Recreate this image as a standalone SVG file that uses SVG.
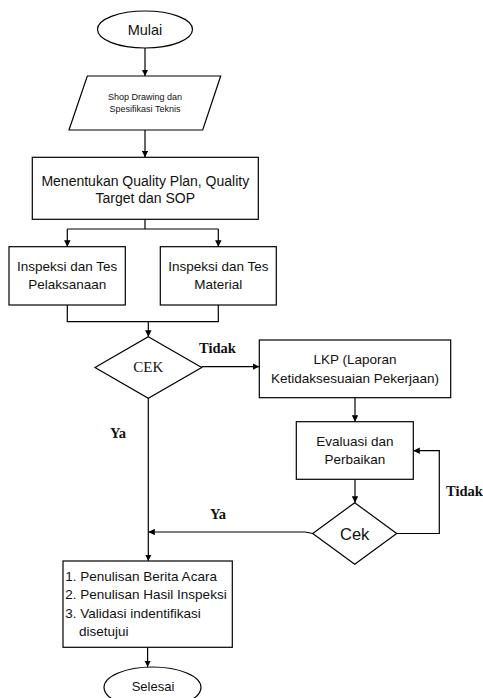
<svg xmlns="http://www.w3.org/2000/svg" width="483" height="698" viewBox="0 0 483 698">
<defs>
<marker id="ah" viewBox="0 0 10 10" refX="10" refY="5" markerWidth="6.5" markerHeight="6.5" markerUnits="userSpaceOnUse" orient="auto">
<path d="M0,0 L10,5 L0,10 z" fill="#000"/>
</marker>
<style>
.s{fill:#fff;stroke:#000;stroke-width:1.2}
.c{fill:none;stroke:#000;stroke-width:1.2}
.a{marker-end:url(#ah)}
.t{font-family:"Liberation Sans",Arial,sans-serif;font-size:13.5px;fill:#111;text-anchor:middle}
.l{font-family:"Liberation Serif","Times New Roman",serif;font-size:14.5px;font-weight:bold;fill:#111}
</style>
</defs>
<rect width="483" height="698" fill="#fff"/>
<g id="connectors">
<path class="c a" d="M145,48 V76"/>
<path class="c a" d="M145,130 V157.3"/>
<path class="c" d="M145,219.3 V229 M67.3,229 H218.3"/>
<path class="c a" d="M67.3,229 V246.7"/>
<path class="c a" d="M218.3,229 V246.7"/>
<path class="c" d="M67.3,305 V321.7 H218.3 V305"/>
<path class="c a" d="M148.3,321.7 V336.7"/>
<path class="c a" d="M201.7,366.7 H259.3"/>
<path class="c a" d="M355,397.7 V421.7"/>
<path class="c a" d="M355,479.3 V502.7"/>
<path class="c a" d="M396.7,533.5 H439.3 V450.7 H413.3"/>
<path class="c a" d="M312.7,533.5 L305,532 H148.3"/>
<path class="c a" d="M148.3,398.3 V561"/>
<path class="c a" d="M147.6,647.3 V667"/>
<text class="l" x="199" y="352.7">Tidak</text>
<text class="l" x="110" y="437.7">Ya</text>
<text class="l" x="210" y="518.7">Ya</text>
<text class="l" x="446" y="496">Tidak</text>
</g>
<g id="mulai">
<ellipse class="s" cx="145" cy="29.5" rx="47.5" ry="18.5"/>
<text class="t" x="145" y="34.5" style="font-size:14.5px">Mulai</text>
</g>
<g id="shop-drawing">
<polygon class="s" points="87.3,76 220.7,76 202.7,130 69,130"/>
<text class="t" x="145" y="100.3" style="font-size:9px">Shop Drawing dan</text>
<text class="t" x="145" y="112" style="font-size:9px">Spesifikasi Teknis</text>
</g>
<g id="quality-plan">
<rect class="s" x="32.3" y="157.3" width="226" height="62"/>
<text class="t" x="145.3" y="185.7" style="font-size:14px">Menentukan Quality Plan, Quality</text>
<text class="t" x="145.3" y="203.3" style="font-size:14px">Target dan SOP</text>
</g>
<g id="inspeksi-pelaksanaan">
<rect class="s" x="9" y="246.7" width="116.3" height="58.3"/>
<text class="t" x="67.2" y="271">Inspeksi dan Tes</text>
<text class="t" x="67.2" y="289.3">Pelaksanaan</text>
</g>
<g id="inspeksi-material">
<rect class="s" x="160.3" y="246.7" width="116" height="58.3"/>
<text class="t" x="218.3" y="271">Inspeksi dan Tes</text>
<text class="t" x="218.3" y="289.3">Material</text>
</g>
<g id="cek1">
<polygon class="s" points="148.3,336.7 201.7,367.5 148.3,398.3 95,367.5"/>
<text x="148.3" y="372.3" style="font-family:'Liberation Serif','Times New Roman',serif;font-size:15px;fill:#111;text-anchor:middle">CEK</text>
</g>
<g id="lkp">
<rect class="s" x="259.3" y="340" width="191.4" height="57.7"/>
<text class="t" x="355" y="364">LKP (Laporan</text>
<text class="t" x="355" y="382.7">Ketidaksesuaian Pekerjaan)</text>
</g>
<g id="evaluasi">
<rect class="s" x="296.3" y="421.7" width="117" height="57.6"/>
<text class="t" x="354.8" y="446">Evaluasi dan</text>
<text class="t" x="354.8" y="464.3">Perbaikan</text>
</g>
<g id="cek2">
<polygon class="s" points="354.7,502.7 396.7,533.5 354.7,564.3 312.7,533.5"/>
<text class="t" x="354.7" y="540" style="font-size:16.5px">Cek</text>
</g>
<g id="penulisan">
<rect class="s" x="63" y="561" width="169.3" height="86.3"/>
<text class="t" x="65.3" y="580.7" style="text-anchor:start">1. Penulisan Berita Acara</text>
<text class="t" x="65.3" y="599.3" style="text-anchor:start">2. Penulisan Hasil Inspeksi</text>
<text class="t" x="65.3" y="618" style="text-anchor:start">3. Validasi indentifikasi</text>
<text class="t" x="79" y="636" style="text-anchor:start">disetujui</text>
</g>
<g id="selesai">
<ellipse class="s" cx="152.5" cy="687.5" rx="48.5" ry="20.5"/>
<text class="t" x="153" y="691" style="font-size:13px">Selesai</text>
</g>
</svg>
